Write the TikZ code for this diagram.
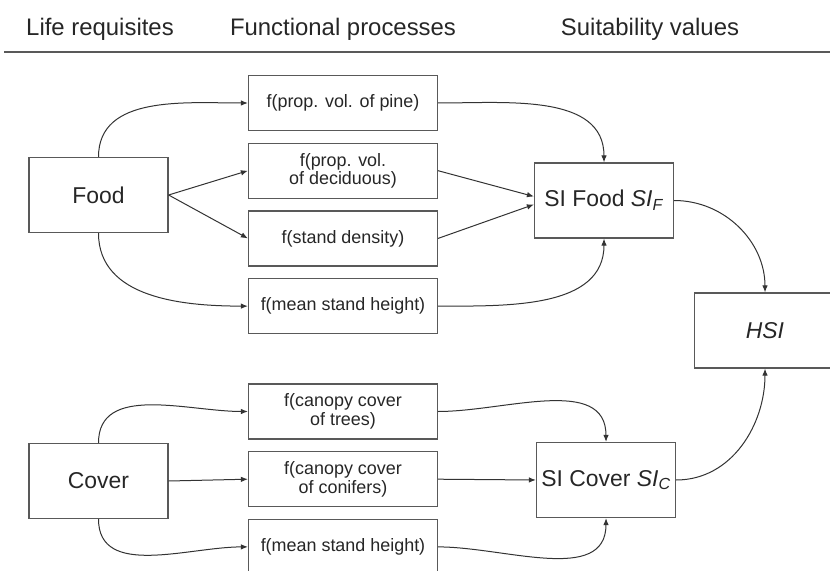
\documentclass[tikz,border=0pt]{standalone}
\usepackage{fontspec}
\setmainfont{Liberation Sans}
\usetikzlibrary{positioning,arrows.meta}

\begin{document}
\begin{tikzpicture}[x=1bp,y=1bp,
		fbox/.style={draw=black!65,line width=1.2bp,minimum width=189bp,minimum height=55bp,align=center,inner sep=1bp,text=black!85,font=\fontsize{18}{18.5}\selectfont},
		bigbox/.style={draw=black!65,line width=1.2bp,minimum width=139bp,minimum height=75bp,inner sep=1bp,text=black!85,font=\fontsize{23}{26}\selectfont},
		head/.style={anchor=base,text=black!85,font=\fontsize{24}{28}\selectfont},
		arr/.style={-{Latex[length=7bp,width=5.5bp]},line width=1bp,draw=black!80}]
		\useasboundingbox (0,0) rectangle (830,-571);
		% column titles
		\node[head] (life) at (100,-36) {Life requisites};
		\node[head] (func) at (343,-36) {Functional processes};
		\node[head] (suit) at (650,-36) {Suitability values};
		\coordinate (rulel) at (4,-52);
		\coordinate (ruler) at (830,-52);
		\draw[black!65,line width=1.3bp] (rulel) -- (ruler);
		% food part
		\node[bigbox] (food) at (98.5,-195) {Food};
		\node[fbox] (pine) at (343,-103) {f(prop. vol. of pine)};
		\node[fbox,below=11.5bp of pine] (decid) {f(prop. vol.\\of deciduous)};
		\node[fbox,below=11.5bp of decid] (dens) {f(stand density)};
		\node[fbox,below=11.5bp of dens] (hgtf) {f(mean stand height)};
		\node[bigbox] (sif) at (604,-200.5) {SI Food \textit{SI}\textsubscript{\textit{F}}};
		% cover part
		\node[bigbox] (cover) at (98.5,-481) {Cover};
		\node[fbox] (trees) at (343,-411.5) {f(canopy cover\\of trees)};
		\node[fbox,below=11.5bp of trees] (conif) {f(canopy cover\\of conifers)};
		\node[fbox,below=11.5bp of conif] (hgtc) {f(mean stand height)};
		\node[bigbox] (sic) at (606,-480) {SI Cover \textit{SI}\textsubscript{\textit{C}}};
		\node[bigbox,minimum width=141bp] (hsi) at (765,-330.5) {\textit{HSI}};
		% food arrows
		\draw[arr] (food.north) to[out=90,in=180] (pine.west);
		\draw[arr] (food.east) -- (decid.west);
		\draw[arr] (food.east) -- (dens.west);
		\draw[arr] (food.south) to[out=-90,in=180] (hgtf.west);
		\draw[arr] (pine.east) to[out=0,in=90] (sif.north);
		\draw[arr] (decid.east) -- ([yshift=4bp]sif.west);
		\draw[arr] (dens.east) -- ([yshift=-4bp]sif.west);
		\draw[arr] (hgtf.east) to[out=0,in=-90] (sif.south);
		% cover arrows
		\draw[arr] (cover.north) to[out=90,in=180] (trees.west);
		\draw[arr] (cover.east) -- (conif.west);
		\draw[arr] (cover.south) to[out=-90,in=180] (hgtc.west);
		\draw[arr] (trees.east) to[out=0,in=90] (sic.north);
		\draw[arr] (conif.east) -- (sic.west);
		\draw[arr] (hgtc.east) to[out=0,in=-90] (sic.south);
		% to HSI
		\draw[arr] (sif.east) to[out=0,in=90] (hsi.north);
		\draw[arr] (sic.east) to[out=0,in=-90] (hsi.south);
	\end{tikzpicture}
\end{document}
